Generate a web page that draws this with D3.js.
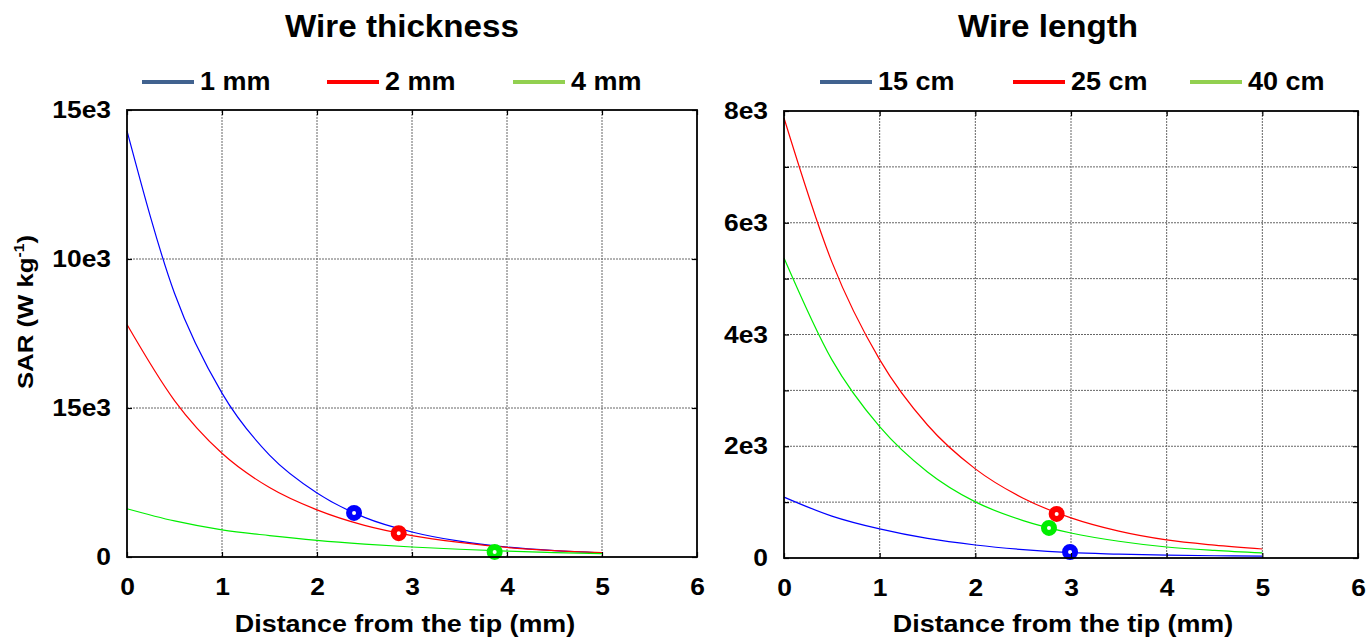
<!DOCTYPE html>
<html lang="en">
<head>
    <meta charset="UTF-8">
    <title>SAR vs distance from the tip</title>
    <script src="https://cdn.jsdelivr.net/npm/d3@7"></script>
    <style>
        html, body { margin: 0; padding: 0; background: #fff; }
        svg { display: block; font-family: "Liberation Sans", Arial, sans-serif; font-weight: bold; }
    </style>
</head>
<body>
    <svg id="chart" width="1371" height="638"></svg>
    <script>
        // distance from the tip (mm), sample points of the curves
        const distances = [0, 0.5, 1, 1.5, 2, 2.5, 3, 3.5, 4, 4.5, 5];

        // left panel: wire thickness
        const thickLabels = ['1 mm', '2 mm', '4 mm'];
        const thick1mm = [14300, 8850, 5500, 3420, 2150, 1330, 840, 530, 335, 215, 140];
        const thick2mm = [7800, 5250, 3480, 2330, 1580, 1060, 720, 490, 320, 215, 145];
        const thick4mm = [1620, 1210, 910, 720, 560, 435, 335, 260, 200, 150, 110];
        const thickMarkers = [[2.39, 1480], [2.86, 800], [3.87, 170]];

        // right panel: wire length
        const lengthLabels = ['15 cm', '25 cm', '40 cm'];
        const len15cm = [1090, 750, 520, 350, 233, 150, 95, 70, 50, 40, 35];
        const len25cm = [7875, 5300, 3550, 2380, 1595, 1070, 717, 480, 323, 230, 161];
        const len40cm = [5370, 3550, 2350, 1540, 1004, 670, 448, 300, 197, 135, 90];
        const lengthMarkers = [[2.99, 107], [2.85, 789], [2.77, 538]];

        // tick values / labels
        const xTicks = [0, 1, 2, 3, 4, 5, 6];
        const thickYTicks = [0, 5000, 10000, 15000];
        const thickYLabels = ['0', '15e3', '10e3', '15e3'];
        const lengthYTicks = [0, 1000, 2000, 3000, 4000, 5000, 6000, 7000, 8000];
        const lengthYLabels = ['0', '', '2e3', '', '4e3', '', '6e3', '', '8e3'];

        const lineColors = ['#0000ff', '#ff0000', '#00ee00'];
        const legendColors = ['#41628f', '#ff0000', '#92d050'];

        const svg = d3.select('#chart');

        // the original font is a bit wider than Liberation Sans, stretch text horizontally
        function stretch(sel, sx) {
            sel.each(function () {
                const t = d3.select(this);
                const x = +t.attr('x') || 0, y = +t.attr('y') || 0;
                t.attr('x', 0).attr('y', 0)
                    .attr('transform', `translate(${x},${y}) scale(${sx},1)`);
            });
        }

        function drawPanel(opts) {
            const x = d3.scaleLinear().domain([0, 6]).range(opts.xRange);
            const y = d3.scaleLinear().domain(opts.yDomain).range(opts.yRange);
            const g = svg.append('g');
            const [x0, x1] = opts.xRange;
            const [y0, y1] = opts.yRange;

            // grid
            g.append('g').selectAll('line').data(xTicks.slice(1, -1)).join('line')
                .attr('x1', d => x(d)).attr('x2', d => x(d))
                .attr('y1', y0).attr('y2', y1)
                .attr('stroke', '#666').attr('stroke-width', 1).attr('stroke-dasharray', '2,1');
            g.append('g').selectAll('line').data(opts.gridY).join('line')
                .attr('x1', x0).attr('x2', x1)
                .attr('y1', d => y(d)).attr('y2', d => y(d))
                .attr('stroke', '#666').attr('stroke-width', 1).attr('stroke-dasharray', '2,1');

            // curves
            const line = d3.line().x(d => x(d[0])).y(d => y(d[1])).curve(d3.curveMonotoneX);
            opts.series.forEach((s, i) => {
                g.append('path')
                    .datum(distances.map((d, j) => [d, s[j]]))
                    .attr('d', line)
                    .attr('fill', 'none')
                    .attr('stroke', lineColors[i])
                    .attr('stroke-width', 1.2);
            });

            // markers
            g.append('g').selectAll('circle').data(opts.markers).join('circle')
                .attr('cx', d => x(d[0])).attr('cy', d => y(d[1]))
                .attr('r', 5)
                .attr('fill', '#fff')
                .attr('stroke', (d, i) => lineColors[i])
                .attr('stroke-width', 6);

            // axes (ticks inward)
            const xAxis = g.append('g').attr('transform', `translate(0,${y0})`)
                .call(d3.axisBottom(x).tickValues(xTicks).tickSize(-5).tickPadding(30).tickFormat(d3.format('d')));
            const yAxis = g.append('g').attr('transform', `translate(${x0},0)`)
                .call(d3.axisLeft(y).tickValues(opts.yTicks).tickSize(-5).tickPadding(16)
                    .tickFormat((d, i) => opts.yLabels[i]));
            g.append('g').attr('transform', `translate(0,${y1})`)
                .call(d3.axisTop(x).tickValues(xTicks).tickSize(-5).tickFormat(''));
            g.append('g').attr('transform', `translate(${x1},0)`)
                .call(d3.axisRight(y).tickValues(opts.yTicks).tickSize(-5).tickFormat(''));
            g.selectAll('.domain').remove();
            g.selectAll('.tick line').attr('stroke', '#000').attr('stroke-width', 1.2);
            xAxis.selectAll('text').attr('font-size', 24).attr('fill', '#000').attr('dy', '0.35em');
            yAxis.selectAll('text').attr('font-size', 24).attr('fill', '#000');
            stretch(xAxis.selectAll('text'), 1.1);
            stretch(yAxis.selectAll('text'), 1.1);

            // box
            g.append('rect')
                .attr('x', x0).attr('y', y1)
                .attr('width', x1 - x0).attr('height', y0 - y1)
                .attr('fill', 'none').attr('stroke', '#000').attr('stroke-width', 1.8);

            // title
            stretch(svg.append('text')
                .attr('x', opts.titleX).attr('y', 37)
                .attr('text-anchor', 'middle').attr('font-size', 31)
                .text(opts.title), 1.07);

            // x label
            stretch(svg.append('text')
                .attr('x', opts.xLabelX).attr('y', 632)
                .attr('text-anchor', 'middle').attr('font-size', 24)
                .text('Distance from the tip (mm)'), 1.12);

            // legend
            opts.legendX.forEach((lx, i) => {
                svg.append('line')
                    .attr('x1', lx).attr('x2', lx + 52)
                    .attr('y1', 82).attr('y2', 82)
                    .attr('stroke', legendColors[i]).attr('stroke-width', 4);
                stretch(svg.append('text')
                    .attr('x', lx + 58).attr('y', 90)
                    .attr('font-size', 25)
                    .text(opts.legend[i]), 1.08);
            });
        }

        drawPanel({
            xRange: [127, 697], yRange: [557, 110], yDomain: [0, 15000],
            yTicks: thickYTicks, yLabels: thickYLabels, gridY: [5000, 10000],
            series: [thick1mm, thick2mm, thick4mm], markers: thickMarkers,
            title: 'Wire thickness', titleX: 402, xLabelX: 405,
            legend: thickLabels, legendX: [142, 327, 513]
        });

        drawPanel({
            xRange: [784, 1358], yRange: [558, 111], yDomain: [0, 8000],
            yTicks: lengthYTicks, yLabels: lengthYLabels, gridY: [1000, 2000, 3000, 4000, 5000, 6000, 7000],
            series: [len15cm, len25cm, len40cm], markers: lengthMarkers,
            title: 'Wire length', titleX: 1048, xLabelX: 1063,
            legend: lengthLabels, legendX: [820, 1013, 1190]
        });

        // y axis label
        const yLab = svg.append('text')
            .attr('transform', 'translate(33,312) rotate(-90) scale(1.12,1)')
            .attr('text-anchor', 'middle').attr('font-size', 23);
        yLab.append('tspan').text('SAR (W kg');
        yLab.append('tspan').attr('font-size', 14).attr('dy', -9).text('-1');
        yLab.append('tspan').attr('dy', 9).text(')');
    </script>
</body>
</html>
